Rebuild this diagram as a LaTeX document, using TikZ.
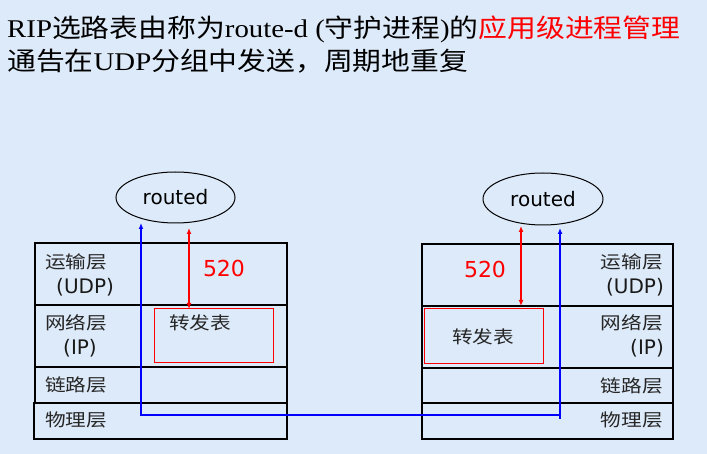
\documentclass[tikz,border=0pt]{standalone}
\usepackage{fontspec}
\setmainfont{Liberation Serif}[FakeStretch=1.13]
\newfontfamily\cjkT{Noto Sans CJK SC}[FakeStretch=1.13]
\newfontfamily\cjkL{Noto Sans CJK SC}[FakeStretch=1.18]
\newfontfamily\latL{DejaVu Sans}
\usetikzlibrary{arrows.meta,shapes.geometric}
\definecolor{bgblue}{RGB}{221,234,249}
\tikzset{
  layerbox/.style={draw=black, line width=1.1pt, inner sep=0pt, outer sep=0pt, anchor=north west},
  fwdbox/.style={draw=red, line width=1pt, inner sep=0pt, outer sep=0pt, anchor=north west},
  proc/.style={draw=black, line width=1pt, ellipse, inner sep=0pt, font=\latL\fontsize{20}{22}\selectfont},
  cjklbl/.style={inner sep=0pt, font=\cjkL\fontsize{17.5}{20}\selectfont, text=black!85},
  latlbl/.style={inner sep=0pt, font=\latL\fontsize{20}{22}\selectfont, text=black!90},
  portlbl/.style={inner sep=0pt, font=\latL\fontsize{22}{24}\selectfont, text=red},
  redarr/.style={draw=red, line width=1.7pt, {Latex[length=6pt,width=5pt]}-{Latex[length=6pt,width=5pt]}},
  bluearr/.style={draw=blue, line width=1.9pt},
  title/.style={inner sep=0pt, anchor=base west, font=\fontsize{25.5}{30}\selectfont}
}
\begin{document}
\begin{tikzpicture}[x=1pt,y=-1pt]
\path[use as bounding box, fill=bgblue] (0,0) rectangle (707,454);

% title
\node[title] (t1) at (7,38) {RIP{\cjkT 选路表由称为}route-d ({\cjkT 守护进程}){\cjkT 的}{\cjkT\color{red}应用级进程管理}};
\node[title] (t2) at (7,71) {{\cjkT 通告在}UDP{\cjkT 分组中发送，周期地重复}};

% left stack
\node[layerbox, minimum width=252pt, minimum height=62pt] (lt) at (35,243) {};
\node[layerbox, minimum width=252pt, minimum height=62pt] (ln) at (35,305) {};
\node[layerbox, minimum width=252pt, minimum height=36pt] (ll) at (35,367) {};
\node[layerbox, minimum width=253pt, minimum height=36pt] (lp) at (34,403) {};
\node[fwdbox, minimum width=119pt, minimum height=54pt] (lf) at (154,309) {};
\node[cjklbl] (lftxt) at (200,323) {转发表};

\node[cjklbl, anchor=west] (ltl1) at (45,262) {运输层};
\node[latlbl, anchor=west] (ltl2) at (56,287) {(UDP)};
\node[cjklbl, anchor=west] (lnl1) at (45,323) {网络层};
\node[latlbl, anchor=west] (lnl2) at (63,348) {(IP)};
\node[cjklbl, anchor=west] (lll) at (45,385) {链路层};
\node[cjklbl, anchor=west] (lpl) at (45,420) {物理层};

\node[proc, minimum width=119pt, minimum height=51pt] (le) at (175.5,197.5) {routed};
\node[portlbl] (lport) at (224,268) {520};

% right stack
\node[layerbox, minimum width=251pt, minimum height=62pt] (rt) at (422,244) {};
\node[layerbox, minimum width=251pt, minimum height=62pt] (rn) at (422,306) {};
\node[layerbox, minimum width=251pt, minimum height=35pt] (rl) at (422,368) {};
\node[layerbox, minimum width=251pt, minimum height=36pt] (rp) at (422,403) {};
\node[fwdbox, minimum width=119pt, minimum height=55pt] (rf) at (424,309) {};
\node[cjklbl] (rftxt) at (483,337) {转发表};

\node[cjklbl, anchor=east] (rtl1) at (663,262) {运输层};
\node[latlbl, anchor=east] (rtl2) at (664,287) {(UDP)};
\node[cjklbl, anchor=east] (rnl1) at (663,323) {网络层};
\node[latlbl, anchor=east] (rnl2) at (664,348) {(IP)};
\node[cjklbl, anchor=east] (rll) at (663,386) {链路层};
\node[cjklbl, anchor=east] (rpl) at (663,420) {物理层};

\node[proc, minimum width=120pt, minimum height=52pt] (re) at (543,199) {routed};
\node[portlbl] (rport) at (485,269) {520};

% red arrows (port 520)
\coordinate (la) at (189,228);
\coordinate (lb) at (189,309);
\draw[redarr] (la) -- (lb);
\coordinate (ra) at (521,226);
\coordinate (rb) at (521,306);
\draw[redarr] (ra) -- (rb);

% blue path
\coordinate (b1) at (141,223);
\coordinate (b2) at (141,415);
\coordinate (b3) at (560,415);
\coordinate (b4) at (560,228);
\coordinate (b5) at (560,419);
\draw[bluearr, {Latex[length=6pt,width=5pt]}-{Latex[length=6pt,width=5pt]}] (b1) -- (b2) -- (b3) -- (b4);
\draw[bluearr] (b3) -- (b5);
\end{tikzpicture}
\end{document}
